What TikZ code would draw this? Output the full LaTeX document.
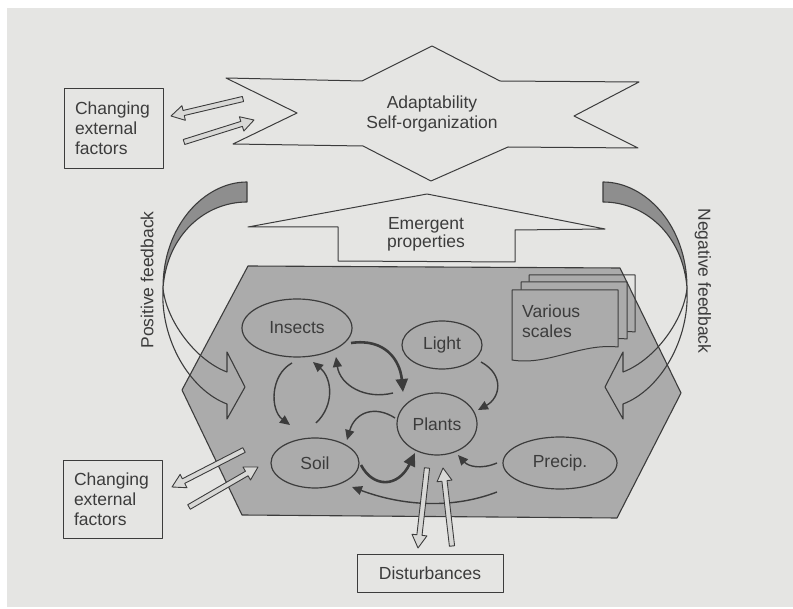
\documentclass[tikz,border=0pt]{standalone}
\usepackage{fontspec}
\setmainfont{Liberation Sans}
\usetikzlibrary{arrows.meta,calc,shapes.geometric}
\definecolor{paper}{HTML}{E5E5E3}
\definecolor{hexg}{HTML}{ABABAB}
\definecolor{bandg}{HTML}{8E8E8E}
\definecolor{hollowg}{HTML}{D8D8D6}
\definecolor{ink}{HTML}{3C3C3C}
\newcommand\hexpath{(248,266) -- (620,268) -- (681,393) -- (617,518) -- (242,515) -- (182,390) -- cycle}
\newcommand\docshape{(512,290) -- (618,290) -- (618,347) .. controls (580,343) and (548,366) .. (512,360) -- cycle}
\newcommand\hollowarr[2]{%
  \coordinate (hb) at ($(#2)!13pt!(#1)$);
  \draw[hollow] ($(#1)!2.6pt!90:(#2)$) -- ($(hb)!2.6pt!90:(#2)$) -- ($(hb)!7.5pt!90:(#2)$) -- (#2)
     -- ($(hb)!7.5pt!-90:(#2)$) -- ($(hb)!2.6pt!-90:(#2)$) -- ($(#1)!2.6pt!-90:(#2)$) -- cycle;}
\newcommand\fbband{%
  \filldraw[bandline, fill=bandg] (247,182) .. controls (205,182) and (163,225) .. (163,288)
     .. controls (167,235) and (205,202) .. (247,202) -- cycle;}
\newcommand\fbhead{%
  \draw[bandline] (163,288) .. controls (166,320) and (195,360) .. (227,372) -- (227,352) -- (245,387)
     -- (227,419) -- (227,404) .. controls (190,390) and (160,340) .. (163,288);}
\begin{document}
\begin{tikzpicture}[x=1pt,y=-1pt,line join=round,
  every node/.style={font=\fontsize{17.5}{20}\selectfont, text=ink},
  ell/.style={ellipse, draw=ink, fill=hexg, line width=1.2pt, inner sep=0pt, outer sep=0pt},
  boxnode/.style={draw=ink, line width=0.9pt, align=left, inner ysep=0pt},
  shapeline/.style={draw=ink, line width=1pt},
  bandline/.style={draw=ink, line width=1.1pt},
  docline/.style={draw=ink, line width=1pt},
  hollow/.style={draw=ink, fill=hollowg, line width=0.9pt},
  conn/.style={draw=ink, line width=1.4pt, -{Triangle[length=10pt,width=9pt]}},
  boldconn/.style={draw=ink, line width=2.6pt, -{Triangle[length=13pt,width=12pt]}}]
\useasboundingbox (0,0) rectangle (793,609);
\fill[white] (0,0) rectangle (793,609);
\fill[paper] (7,8) rectangle (793,607);

% top star
\draw[shapeline] (226,78) -- (362,81) -- (432,46) -- (500,81) -- (639,82) -- (574,116) -- (638,148)
  -- (508,147) -- (431,181) -- (363,146) -- (233,144) -- (297,113) -- cycle;
\node[align=center] (adapt) at (432,114) {Adaptability\\Self-organization};

% emergent properties
\draw[shapeline] (248,227) -- (427,194) -- (605,229) -- (515,230) -- (515,262) -- (338,261) -- (338,227) -- cycle;
\node[align=center, font=\fontsize{17.5}{18}\selectfont] (emerg) at (426,234) {Emergent\\properties};

% boxes
\node[boxnode, text width=77pt, inner xsep=11pt, minimum height=80pt] (cef1) at (113.5,128) {Changing\\external\\factors};
\node[boxnode, text width=77pt, inner xsep=11pt, minimum height=78pt] (cef2) at (112.5,499) {Changing\\external\\factors};
\node[draw=ink, line width=0.9pt, minimum width=146pt, minimum height=38pt, inner sep=0pt] (dist) at (430,573) {Disturbances};

% hexagon
\fill[hexg] \hexpath;

% feedback bands (dark upper parts)
\fbband
\begin{scope}[xshift=850pt, xscale=-1]
\fbband
\end{scope}

% various scales documents
\foreach \dx/\dy in {17/-15, 9/-8, 0/0}{
  \fill[paper, shift={(\dx,\dy)}] \docshape;
  \begin{scope}
    \clip \hexpath;
    \fill[hexg, shift={(\dx,\dy)}] \docshape;
  \end{scope}
  \draw[docline, shift={(\dx,\dy)}] \docshape;
}
\node[align=left, anchor=north west, inner sep=0pt] (scales) at (522,305) {Various\\scales};

% hexagon outline
\draw[draw=ink, line width=1.1pt] \hexpath;

% feedback lower (transparent) parts
\fbhead
\begin{scope}[xshift=850pt, xscale=-1]
\fbhead
\end{scope}
\node[rotate=90] (pos) at (147,280) {Positive feedback};
\node[rotate=-90] (neg) at (703,281) {Negative feedback};

% ellipses
\node[ell, minimum width=110pt, minimum height=58pt] (ins) at (297,328) {Insects};
\node[ell, minimum width=88pt, minimum height=50pt] (soil) at (315,463) {Soil};
\node[ell, minimum width=80pt, minimum height=48pt] (light) at (442,345) {Light};
\node[ell, minimum width=80pt, minimum height=62pt] (pl) at (437,424) {Plants};
\node[ell, minimum width=114pt, minimum height=52pt] (pre) at (560,463) {Precip.};

% internal arrows
\draw[boldconn] ($(ins)+(54,15)$) .. controls (385,338) and (400,360) .. ($(pl)+(-34,-32)$);
\draw[conn] ($(pl)+(-44,-31)$) .. controls (365,400) and (340,385) .. ($(ins)+(39,29)$);
\draw[conn] ($(ins)+(-5,35)$) .. controls (270,375) and (270,410) .. ($(soil)+(-25,-38)$);
\draw[conn] ($(soil)+(1,-40)$) .. controls (335,405) and (332,378) .. ($(ins)+(16,34)$);
\draw[conn] ($(light)+(39,17)$) .. controls (505,375) and (500,398) .. ($(pl)+(41,-14)$);
\draw[conn] ($(pl)+(-42,-6)$) .. controls (375,405) and (355,412) .. ($(soil)+(32,-23)$);
\draw[boldconn] ($(soil)+(46,2)$) .. controls (373,488) and (398,488) .. ($(pl)+(-22,29)$);
\draw[conn] ($(pre)+(-63,0)$) .. controls (480,470) and (468,466) .. ($(pl)+(21,31)$);
\draw[conn] ($(pre)+(-63,29)$) .. controls (450,510) and (400,505) .. ($(soil)+(37,24)$);

% hollow arrows
\coordinate (ha1) at (243,99);  \coordinate (ha1t) at (171,116);
\coordinate (ha2) at (184,142); \coordinate (ha2t) at (254,120);
\coordinate (ha3) at (244,450); \coordinate (ha3t) at (172,487);
\coordinate (ha4) at (189,507); \coordinate (ha4t) at (258,467);
\coordinate (ha5) at (427,468); \coordinate (ha5t) at (418,548);
\coordinate (ha6) at (452,546); \coordinate (ha6t) at (443,468);
\hollowarr{ha1}{ha1t}
\hollowarr{ha2}{ha2t}
\hollowarr{ha3}{ha3t}
\hollowarr{ha4}{ha4t}
\hollowarr{ha5}{ha5t}
\hollowarr{ha6}{ha6t}
\end{tikzpicture}
\end{document}
